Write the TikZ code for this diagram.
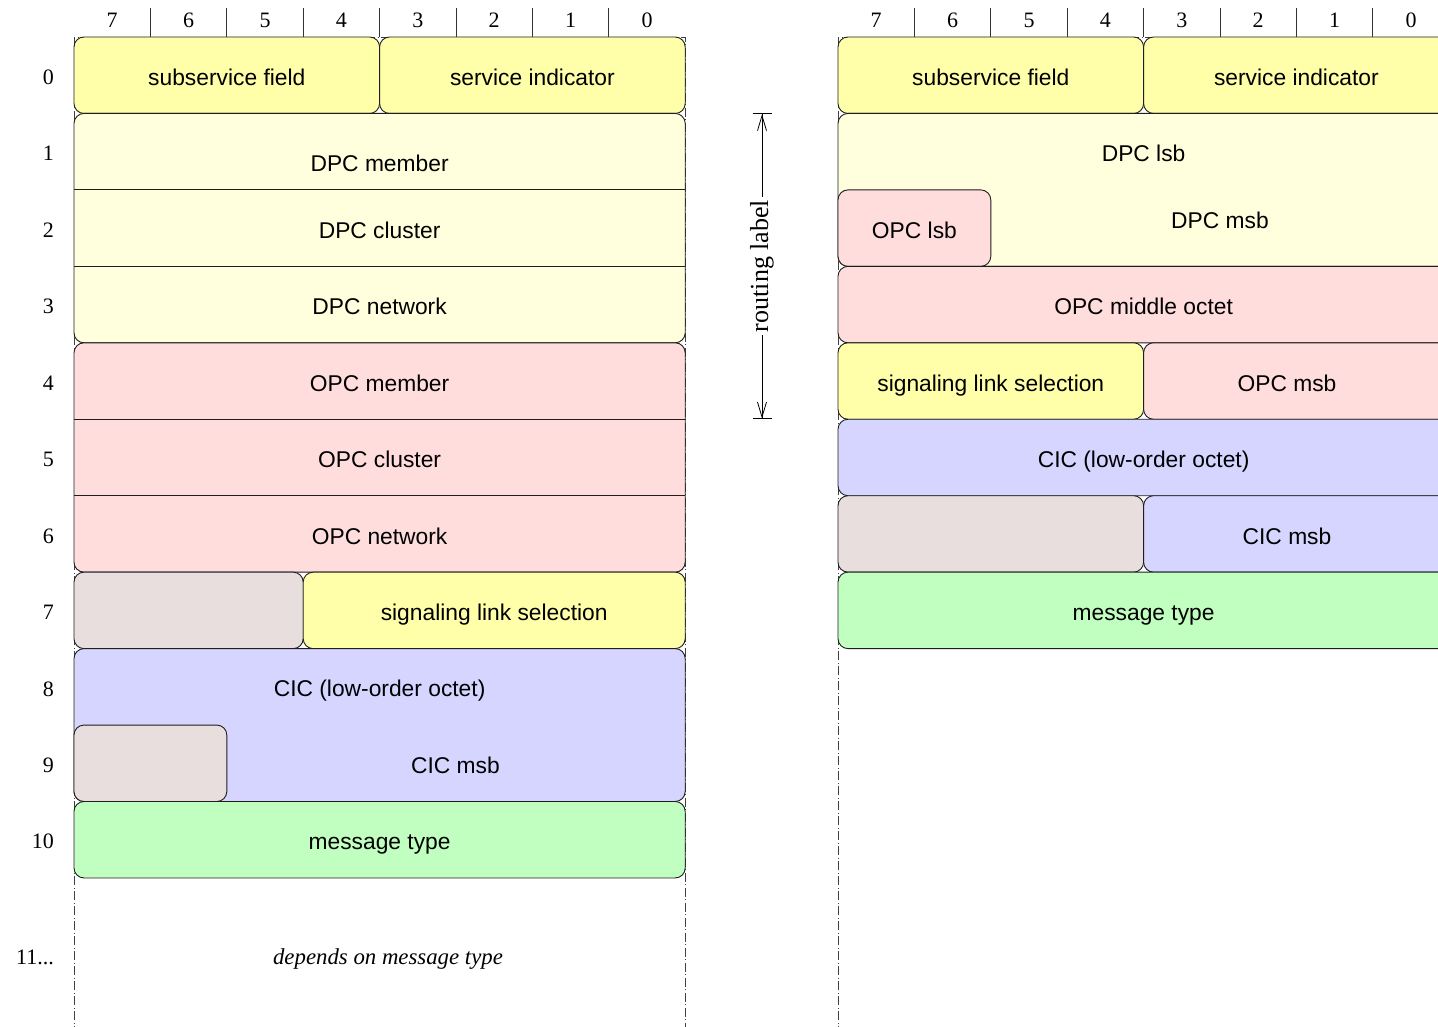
\documentclass[tikz,border=0pt]{standalone}
\usepackage{fontspec}
\setmainfont{Liberation Serif}
\newfontfamily\sansf{Liberation Sans}
\usetikzlibrary{arrows.meta}
\definecolor{cyel}{RGB}{255,255,170}
\definecolor{clyel}{RGB}{255,255,221}
\definecolor{cpink}{RGB}{255,221,221}
\definecolor{cgray}{RGB}{232,222,222}
\definecolor{cblue}{RGB}{213,213,255}
\definecolor{cgreen}{RGB}{193,255,193}
\definecolor{cline}{RGB}{30,30,30}
\begin{document}
\begin{tikzpicture}[x=1pt,y=-1pt,
  fld/.style={draw=cline, line width=0.9pt, rounded corners=10pt, rectangle, inner sep=0pt, outer sep=0pt, anchor=north west, font=\sansf\fontsize{22.8}{27}\selectfont, text height=20.4pt, text depth=0pt},
  lbl/.style={font=\sansf\fontsize{22.8}{27}\selectfont, inner sep=0pt, text height=16.4pt, text depth=0pt},
  num/.style={font=\fontsize{22}{26}\selectfont, inner sep=0pt},
  framel/.style={draw=black!75, line width=0.7pt, dash pattern=on 9pt off 2.5pt on 1pt off 2.5pt},
  tickl/.style={draw=black!80, line width=0.8pt},
  sepl/.style={draw=cline, line width=0.9pt}]
\useasboundingbox (0,0) rectangle (1438,1027);
\clip (0,0) rectangle (1438,1027);

% ---------- frames (dash-dot) ----------
\draw[framel] (74,1035) -- (74,37) -- (685.2,37) -- (685.2,1035);
\draw[framel] (838,1035) -- (838,37) -- (1449.2,37) -- (1449.2,1035);

% ---------- headers ----------
\foreach \i in {0,...,7} {
  \pgfmathtruncatemacro\b{7-\i}
  \node[num] (hl\i) at ({74+(\i+0.5)*76.4},20) {\b};
  \node[num] (hr\i) at ({838+(\i+0.5)*76.4},20) {\b};
}
\foreach \i in {1,...,7} {
  \draw[tickl] ({74+\i*76.4},8) -- ({74+\i*76.4},37);
  \draw[tickl] ({838+\i*76.4},8) -- ({838+\i*76.4},37);
}

% ---------- row labels ----------
\foreach \r in {0,...,10} {
  \node[num, anchor=east] (row\r) at (54,{37+(\r+0.5)*76.45+2}) {\r};
}
\node[num, anchor=east] (row11) at (54,957) {11...};

% ---------- left layout ----------
\node[fld, fill=cyel, minimum width=305.6pt, minimum height=76.45pt] (ssf) at (74,37) {subservice field};
\node[fld, fill=cyel, minimum width=305.6pt, minimum height=76.45pt] (si) at (379.6,37) {service indicator};

\node[fld, fill=clyel, minimum width=611.2pt, minimum height=229.35pt] (dpc) at (74,113.45) {};
\draw[sepl] (74,189.9) -- (685.2,189.9);
\draw[sepl] (74,266.35) -- (685.2,266.35);
\node[lbl] (dpcm) at (379.6,163) {DPC member};
\node[lbl] (dpcc) at (379.6,230) {DPC cluster};
\node[lbl] (dpcn) at (379.6,306) {DPC network};

\node[fld, fill=cpink, minimum width=611.2pt, minimum height=229.35pt] (opc) at (74,342.8) {};
\draw[sepl] (74,419.25) -- (685.2,419.25);
\draw[sepl] (74,495.7) -- (685.2,495.7);
\node[lbl] (opcm) at (379.6,383) {OPC member};
\node[lbl] (opcc) at (379.6,459) {OPC cluster};
\node[lbl] (opcn) at (379.6,536) {OPC network};

\node[fld, fill=cgray, minimum width=229.2pt, minimum height=76.45pt] (sp1) at (74,572.15) {};
\node[fld, fill=cyel, minimum width=382pt, minimum height=76.45pt] (sls) at (303.2,572.15) {signaling link selection};

\node[fld, fill=cblue, minimum width=611.2pt, minimum height=152.9pt] (cic) at (74,648.6) {};
\node[fld, fill=cgray, minimum width=152.8pt, minimum height=76.45pt] (sp2) at (74,725.05) {};
\node[lbl] (cicl) at (379.6,688) {CIC (low-order octet)};
\node[lbl] (cicm) at (455.4,765) {CIC msb};

\node[fld, fill=cgreen, minimum width=611.2pt, minimum height=76.45pt] (msg) at (74,801.5) {message type};

\node[font=\itshape\fontsize{22.8}{27}\selectfont, inner sep=0pt, text height=15.5pt, text depth=0pt] (dep) at (388,957) {depends on message type};

% ---------- routing label ----------
\coordinate (rtop) at (762,113.45);
\coordinate (rbot) at (762,419.25);
\node[rotate=90, font=\fontsize{26}{30}\selectfont, inner sep=3pt] (rl) at (762,266) {routing label};
\draw[line width=0.8pt, -{Straight Barb[length=15pt,width=9pt]Bar[width=19pt]}] (rl.east) -- (rtop);
\draw[line width=0.8pt, -{Straight Barb[length=15pt,width=9pt]Bar[width=19pt]}] (rl.west) -- (rbot);

% ---------- right layout ----------
\node[fld, fill=cyel, minimum width=305.6pt, minimum height=76.45pt] (ssf2) at (838,37) {subservice field};
\node[fld, fill=cyel, minimum width=305.6pt, minimum height=76.45pt] (si2) at (1143.6,37) {service indicator};

\node[fld, fill=clyel, minimum width=611.2pt, minimum height=152.9pt] (dpc2) at (838,113.45) {};
\node[fld, fill=cpink, minimum width=152.8pt, minimum height=76.45pt] (opclsb) at (838,189.9) {OPC lsb};
\node[lbl] (dpclsb) at (1143.6,153) {DPC lsb};
\node[lbl] (dpcmsb) at (1220,220) {DPC msb};

\node[fld, fill=cpink, minimum width=611.2pt, minimum height=76.45pt] (opcmid) at (838,266.35) {OPC middle octet};

\node[fld, fill=cyel, minimum width=305.6pt, minimum height=76.45pt] (sls2) at (838,342.8) {signaling link selection};
\node[fld, fill=cpink, minimum width=305.6pt, minimum height=76.45pt] (opcmsb) at (1143.6,342.8) {};
\node[lbl] (opcmsbt) at (1287,383) {OPC msb};

\node[fld, fill=cblue, minimum width=611.2pt, minimum height=76.45pt] (cic2) at (838,419.25) {CIC (low-order octet)};

\node[fld, fill=cgray, minimum width=305.6pt, minimum height=76.45pt] (sp3) at (838,495.7) {};
\node[fld, fill=cblue, minimum width=305.6pt, minimum height=76.45pt] (cicmsb) at (1143.6,495.7) {};
\node[lbl] (cicmsbt) at (1287,536) {CIC msb};

\node[fld, fill=cgreen, minimum width=611.2pt, minimum height=76.45pt] (msg2) at (838,572.15) {message type};
\end{tikzpicture}
\end{document}
